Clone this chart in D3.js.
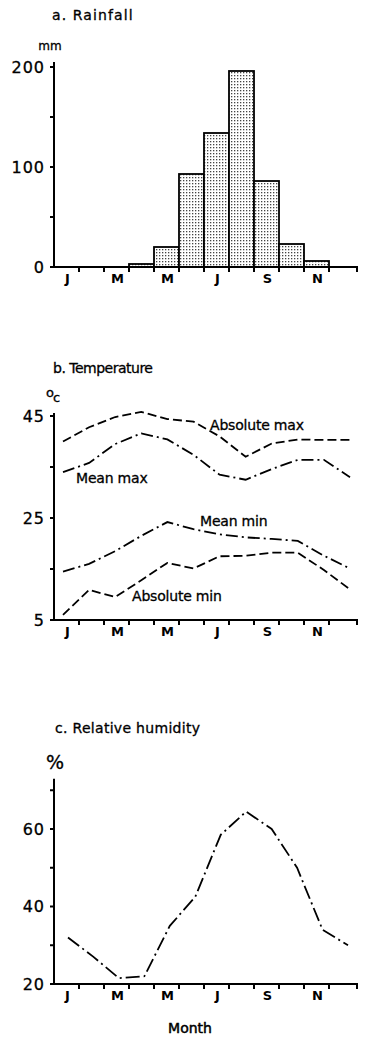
<!DOCTYPE html>
<html>
<head>
<title>Climate</title>
<script src="https://cdn.jsdelivr.net/npm/d3@7"></script>
<style>
	body { margin:0; background:#fff; }
	text { font-family: "DejaVu Sans", Arial, sans-serif; fill:#000; stroke:#000; stroke-width:0.3; }
	.title { font-size:14px; }
	.tick-lab { font-size:16px; }
	.month { font-size:13px; font-weight:bold; stroke-width:0; }
	.series-lab { font-size:14px; letter-spacing:-0.2px; }
	.axis line, .axis path { stroke:#000; stroke-width:2; fill:none; }
	.series { fill:none; stroke:#000; stroke-width:1.8; }
</style>
</head>
<body>
<script>

// ---- data ----
var months = ["Jan","Feb","Mar","Apr","May","Jun","Jul","Aug","Sep","Oct","Nov","Dec"];
var monthLabels = ["J","","M","","M","","J","","S","","N",""];

var rainfall = [0, 0, 0, 3, 20, 93, 134, 196, 86, 23, 6, 0];

var absMax  = [40.0, 42.8, 44.8, 45.8, 44.4, 43.9, 41.0, 37.0, 39.6, 40.4, 40.3, 40.3];
var meanMax = [34.0, 35.8, 39.5, 41.6, 40.4, 37.4, 33.5, 32.5, 34.6, 36.4, 36.4, 33.0];
var meanMin = [14.5, 16.0, 18.5, 21.5, 24.2, 22.8, 21.8, 21.2, 20.9, 20.5, 17.6, 15.1];
var absMin  = [6.0, 10.9, 9.5, 12.8, 16.2, 15.1, 17.5, 17.6, 18.2, 18.2, 14.8, 11.0];

var humidity = [32, 27, 21.5, 22, 35, 42.5, 58.5, 64.5, 60, 50, 34, 30];

var rainTicks = [0, 50, 100, 150, 200];
var rainLabels = [0, 100, 200];
var tempTicks = [5, 15, 25, 35, 45];
var tempLabels = [5, 25, 45];
var humTicks = [20, 30, 40, 50, 60, 70];
var humLabels = [20, 40, 60];

var svg = d3.select("body").append("svg")
	.attr("width", 377)
	.attr("height", 1042);

// dotted fill for the bars
var pat = svg.append("defs").append("pattern")
	.attr("id", "stipple")
	.attr("width", 3).attr("height", 3)
	.attr("patternUnits", "userSpaceOnUse");
pat.append("rect").attr("width", 3).attr("height", 3).attr("fill", "#fff");
pat.append("rect").attr("width", 1.3).attr("height", 1.3).attr("fill", "#444");

// shared x scale, one band per month
var xBand = d3.scaleBand().domain(months).range([54, 354]).padding(0);

// one panel frame: y axis, x axis with ticks at month edges, labels
function frame(yScale, ticks, labels, yTop, yBottom) {
	var g = svg.append("g").attr("class", "axis");
	// y axis line
	g.append("line").attr("x1", 54).attr("x2", 54).attr("y1", yTop).attr("y2", yBottom + 1);
	g.selectAll(".yt").data(ticks).enter().append("line")
		.attr("x1", 50).attr("x2", 54)
		.attr("y1", function (d) { return yScale(d); })
		.attr("y2", function (d) { return yScale(d); });
	svg.selectAll(null).data(labels).enter().append("text")
		.attr("class", "tick-lab")
		.attr("x", 45)
		.attr("y", function (d) { return yScale(d); })
		.attr("dy", "0.36em")
		.attr("text-anchor", "end")
		.attr("letter-spacing", "1")
		.text(function (d) { return d; });
	// x axis line
	g.append("line").attr("x1", 53).attr("x2", 358).attr("y1", yBottom).attr("y2", yBottom);
	g.selectAll(".xt").data(months.slice(1)).enter().append("line")
		.attr("x1", function (d) { return xBand(d); })
		.attr("x2", function (d) { return xBand(d); })
		.attr("y1", yBottom).attr("y2", yBottom + 5);
	g.append("line").attr("x1", 357).attr("x2", 357).attr("y1", yBottom).attr("y2", yBottom + 5);
	svg.selectAll(null).data(months).enter().append("text")
		.attr("class", "month")
		.attr("x", function (d) { return xBand(d) + xBand.bandwidth() / 2 + 1; })
		.attr("y", yBottom + 16)
		.attr("text-anchor", "middle")
		.text(function (d, i) { return monthLabels[i]; });
}

// ---------------- a. Rainfall ----------------
var yRain = d3.scaleLinear().domain([0, 200]).range([267, 67]);

svg.append("text").attr("class", "title").attr("x", 52).attr("y", 20)
	.attr("letter-spacing", "1.1").text("a. Rainfall");
svg.append("text").attr("x", 50).attr("y", 50).attr("text-anchor", "middle")
	.style("font-size", "12px").text("mm");

svg.selectAll(".bar").data(rainfall).enter().append("rect")
	.attr("class", "bar")
	.attr("x", function (d, i) { return xBand(months[i]); })
	.attr("y", function (d) { return yRain(d); })
	.attr("width", xBand.bandwidth())
	.attr("height", function (d) { return yRain(0) - yRain(d); })
	.attr("fill", "url(#stipple)")
	.attr("stroke", "#000")
	.attr("stroke-width", function (d) { return d > 0 ? 1.8 : 0; });

frame(yRain, rainTicks, rainLabels, yRain(205), yRain(0));

// ---------------- b. Temperature ----------------
var yTemp = d3.scaleLinear().domain([5, 45]).range([620, 416]);
var xTemp = d3.scalePoint().domain(months).range([63, 350]);

svg.append("text").attr("class", "title").attr("x", 53).attr("y", 373)
	.attr("letter-spacing", "-0.5").text("b. Temperature");
var degLab = svg.append("text").attr("x", 46).attr("y", 397).style("font-size", "13px");
degLab.append("tspan").text("o");
degLab.append("tspan").attr("dy", 5).attr("dx", -1).text("c");

var tempLine = d3.line()
	.x(function (d, i) { return xTemp(months[i]); })
	.y(function (d) { return yTemp(d); });

var tempSeries = [
	{ values: absMax,  dash: "9,4" },
	{ values: meanMax, dash: "12,4,2,4" },
	{ values: meanMin, dash: "12,4,2,4" },
	{ values: absMin,  dash: "9,4" }
];
svg.selectAll(".tline").data(tempSeries).enter().append("path")
	.attr("class", "series")
	.attr("stroke-dasharray", function (d) { return d.dash; })
	.attr("d", function (d) { return tempLine(d.values); });

svg.append("text").attr("class", "series-lab").attr("x", 210).attr("y", 430).text("Absolute max");
svg.append("text").attr("class", "series-lab").attr("x", 76).attr("y", 483).text("Mean max");
svg.append("text").attr("class", "series-lab").attr("x", 200).attr("y", 526).text("Mean min");
svg.append("text").attr("class", "series-lab").attr("x", 132).attr("y", 601).text("Absolute min");

frame(yTemp, tempTicks, tempLabels, yTemp(45.6), yTemp(5));

// ---------------- c. Relative humidity ----------------
var yHum = d3.scaleLinear().domain([20, 60]).range([984, 829]);
var xHum = d3.scalePoint().domain(months).range([68, 348]);

svg.append("text").attr("class", "title").attr("x", 55).attr("y", 733)
	.attr("letter-spacing", "0.3").text("c. Relative humidity");
svg.append("text").attr("x", 46).attr("y", 769).style("font-size", "19px").text("%");

svg.append("path")
	.attr("class", "series")
	.attr("stroke-dasharray", "14,4,2,4")
	.attr("d", d3.line()
		.x(function (d, i) { return xHum(months[i]); })
		.y(function (d) { return yHum(d); })(humidity));

frame(yHum, humTicks, humLabels, yHum(73), yHum(20));

svg.append("text").attr("x", 190).attr("y", 1033).attr("text-anchor", "middle")
	.style("font-size", "14px").style("stroke-width", "0.5").text("Month");

</script>
</body>
</html>
